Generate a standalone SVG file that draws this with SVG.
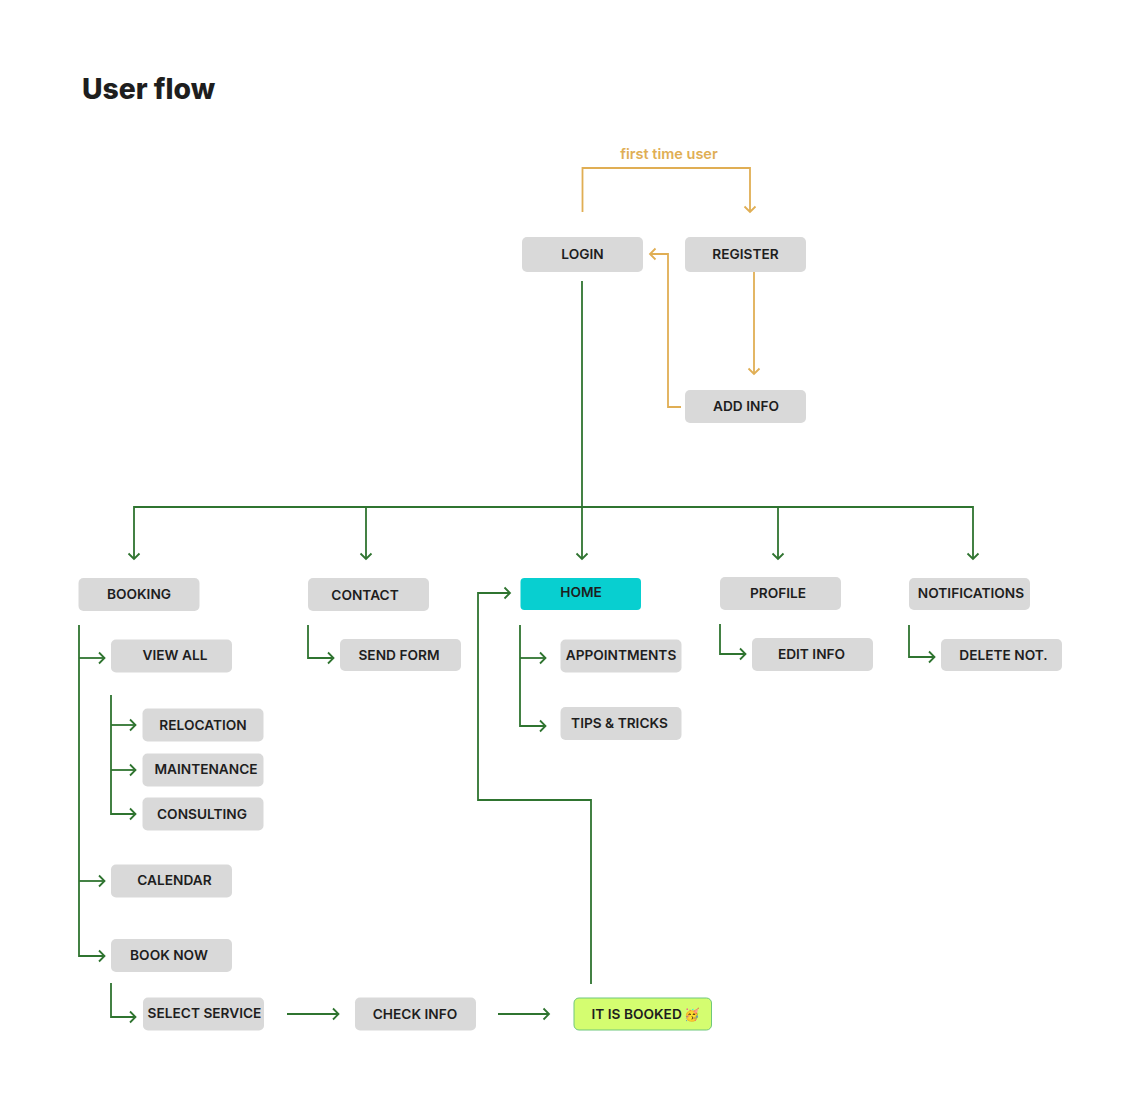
<svg xmlns="http://www.w3.org/2000/svg" width="1140" height="1094" viewBox="0 0 1140 1094">
<style>
text{font-family:Inter,"Liberation Sans",sans-serif;}
.n{fill:#d9d9d9;}
.t{font-size:13.700px;font-weight:600;fill:#1e1e1e;text-anchor:middle;}
.g,.y{fill:none;stroke-width:1.800;}
.g{stroke:#2f7430;}
.y{stroke:#e0ae54;}
</style>
<defs>
<path id="ad" d="M-5.500-5.500L0 0L5.500-5.500" fill="none" stroke-width="1.800"/>
<path id="ar" d="M-5.500-5.500L0 0L-5.500 5.500" fill="none" stroke-width="1.800"/>
</defs>
<rect width="1140" height="1094" fill="#fff"/>
<text x="82" y="99" font-size="28.300" font-weight="800" fill="#1e1e1e">User flow</text>
<text x="669" y="159" font-size="14.500" font-weight="600" fill="#e0ae54" text-anchor="middle">first time user</text>
<g id="connectors">
<g class="y">
<path d="M582.500 212V168H750V212"/><use href="#ad" x="750" y="212" stroke="#e0ae54"/>
<path d="M754 272V374"/><use href="#ad" x="754" y="374" stroke="#e0ae54"/>
<path d="M681 407H668V254H650"/><path d="M655.500 248.500L650 254L655.500 259.500"/>
</g>
<g class="g">
<path d="M582 281V559"/><use href="#ad" x="582" y="559" stroke="#2f7430"/>
<path d="M134 559V507H973V559"/>
<use href="#ad" x="134" y="559" stroke="#2f7430"/><use href="#ad" x="973" y="559" stroke="#2f7430"/>
<path d="M366 507V559"/><use href="#ad" x="366" y="559" stroke="#2f7430"/>
<path d="M778 507V559"/><use href="#ad" x="778" y="559" stroke="#2f7430"/>
<path d="M79 625V956H104.500"/><use href="#ar" x="104.500" y="956" stroke="#2f7430"/>
<path d="M79 658H104.500"/><use href="#ar" x="104.500" y="658" stroke="#2f7430"/>
<path d="M79 881H104.500"/><use href="#ar" x="104.500" y="881" stroke="#2f7430"/>
<path d="M111 695V814H135.500"/><use href="#ar" x="135.500" y="814" stroke="#2f7430"/>
<path d="M111 725H135.500"/><use href="#ar" x="135.500" y="725" stroke="#2f7430"/>
<path d="M111 770H135.500"/><use href="#ar" x="135.500" y="770" stroke="#2f7430"/>
<path d="M111 983V1017H135.500"/><use href="#ar" x="135.500" y="1017" stroke="#2f7430"/>
<path d="M287 1014H338.500"/><use href="#ar" x="338.500" y="1014" stroke="#2f7430"/>
<path d="M498 1014H549"/><use href="#ar" x="549" y="1014" stroke="#2f7430"/>
<path d="M308 625V658H333.500"/><use href="#ar" x="333.500" y="658" stroke="#2f7430"/>
<path d="M520 625V726H545.500"/><use href="#ar" x="545.500" y="726" stroke="#2f7430"/>
<path d="M520 658H545.500"/><use href="#ar" x="545.500" y="658" stroke="#2f7430"/>
<path d="M720 624V654H745.500"/><use href="#ar" x="745.500" y="654" stroke="#2f7430"/>
<path d="M909 625V657H934.500"/><use href="#ar" x="934.500" y="657" stroke="#2f7430"/>
<path d="M591 984V800H478V593H510"/><use href="#ar" x="510" y="593" stroke="#2f7430"/>
</g>
</g>
<g id="login"><rect class="n" x="522" y="237" width="121" height="35" rx="5"/><text class="t" x="582.500" y="259">LOGIN</text></g>
<g id="register"><rect class="n" x="685" y="237" width="121" height="35" rx="5"/><text class="t" x="745.500" y="259">REGISTER</text></g>
<g id="add-info"><rect class="n" x="685" y="390" width="121" height="33" rx="5"/><text class="t" x="746" y="411">ADD INFO</text></g>
<g id="booking"><rect class="n" x="78.500" y="578" width="121" height="33" rx="5"/><text class="t" x="139" y="599">BOOKING</text></g>
<g id="contact"><rect class="n" x="308" y="578" width="121" height="33" rx="5"/><text class="t" x="365" y="600">CONTACT</text></g>
<g id="home"><rect x="520.500" y="578" width="120.500" height="32" rx="4" fill="#08cfd0"/><text class="t" x="581" y="597">HOME</text></g>
<g id="profile"><rect class="n" x="720" y="577" width="121" height="33" rx="5"/><text class="t" x="778" y="598">PROFILE</text></g>
<g id="notifications"><rect class="n" x="909" y="578" width="121" height="32" rx="5"/><text class="t" x="971" y="598">NOTIFICATIONS</text></g>
<g id="view-all"><rect class="n" x="111" y="639.500" width="121" height="33" rx="5"/><text class="t" x="175" y="660">VIEW ALL</text></g>
<g id="send-form"><rect class="n" x="340" y="639" width="121" height="32" rx="5"/><text class="t" x="399" y="660">SEND FORM</text></g>
<g id="appointments"><rect class="n" x="560.500" y="639.500" width="121" height="33" rx="5"/><text class="t" x="621" y="660">APPOINTMENTS</text></g>
<g id="edit-info"><rect class="n" x="752" y="638" width="121" height="33" rx="5"/><text class="t" x="811.500" y="659">EDIT INFO</text></g>
<g id="delete-not"><rect class="n" x="941" y="639" width="121" height="32" rx="5"/><text class="t" x="1003.500" y="660">DELETE NOT.</text></g>
<g id="tips-tricks"><rect class="n" x="560.500" y="707" width="121" height="33" rx="5"/><text class="t" x="619.500" y="728">TIPS &amp; TRICKS</text></g>
<g id="relocation"><rect class="n" x="142.500" y="708.500" width="121" height="33" rx="5"/><text class="t" x="203" y="730">RELOCATION</text></g>
<g id="maintenance"><rect class="n" x="142.500" y="753.500" width="121" height="33" rx="5"/><text class="t" x="206" y="774">MAINTENANCE</text></g>
<g id="consulting"><rect class="n" x="142.500" y="797.500" width="121" height="33" rx="5"/><text class="t" x="202" y="819">CONSULTING</text></g>
<g id="calendar"><rect class="n" x="111" y="864.500" width="121" height="33" rx="5"/><text class="t" x="174.500" y="885">CALENDAR</text></g>
<g id="book-now"><rect class="n" x="111" y="939" width="121" height="33" rx="5"/><text class="t" x="169" y="960">BOOK NOW</text></g>
<g id="select-service"><rect class="n" x="143" y="997.500" width="121" height="33" rx="5"/><text class="t" x="204.500" y="1018">SELECT SERVICE</text></g>
<g id="check-info"><rect class="n" x="355" y="997.500" width="121" height="33" rx="5"/><text class="t" x="415" y="1019">CHECK INFO</text></g>
<g id="it-is-booked"><rect x="574" y="998" width="137.500" height="32" rx="5" fill="#d4fd70" stroke="#6fc77c" stroke-width="1"/><text class="t" x="591.500" y="1019" style="text-anchor:start">IT IS BOOKED <tspan dx="-1.500" font-size="12.500">🥳</tspan></text></g>
</svg>
